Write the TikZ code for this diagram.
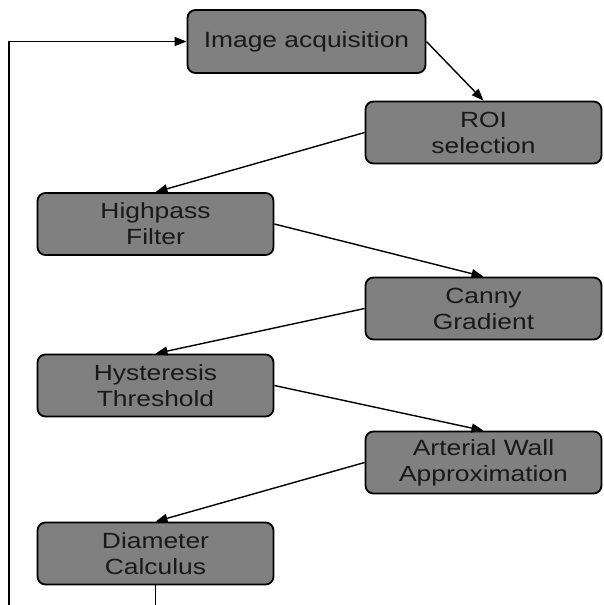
\documentclass[tikz,border=0pt]{standalone}
\usepackage{fontspec}
\setmainfont{Liberation Sans}
\usetikzlibrary{arrows.meta}
\newcommand\sx[1]{\scalebox{1.2}[1]{#1}}
\tikzset{
  stepbox/.style={draw=black, line width=1.8pt, fill={rgb,255:red,128;green,128;blue,128},
    rounded corners=8pt, minimum width=236pt, minimum height=62pt, inner sep=0pt,
    align=center, font=\fontsize{22}{26}\selectfont, text=black!90},
  conn/.style={line width=1.4pt, -{Triangle[length=12pt,width=9pt]}},
  plain/.style={line width=1.6pt}
}
\begin{document}
\begin{tikzpicture}[x=1pt,y=-1pt]
\useasboundingbox (0,0) rectangle (603,605);
\node[stepbox, minimum width=238pt, minimum height=63pt] (img) at (306.5,41.5) {\sx{Image acquisition}};
\node[stepbox] (roi) at (483.5,132.5) {\sx{ROI}\\\sx{selection}};
\node[stepbox] (hp) at (155.5,224) {\sx{Highpass}\\\sx{Filter}};
\node[stepbox] (canny) at (483.5,308.5) {\sx{Canny}\\\sx{Gradient}};
\node[stepbox] (hyst) at (155.5,385.5) {\sx{Hysteresis}\\\sx{Threshold}};
\node[stepbox] (art) at (483.5,462.5) {\sx{Arterial Wall}\\\sx{Approximation}};
\node[stepbox] (dia) at (155.5,553.5) {\sx{Diameter}\\\sx{Calculus}};
\coordinate (b1) at (155.5,606);
\coordinate (b2) at (9,606);
\draw[conn] (img.east) -- (roi.north);
\draw[conn] (roi.west) -- (hp.north);
\draw[conn] (hp.east) -- (canny.north);
\draw[conn] (canny.west) -- (hyst.north);
\draw[conn] (hyst.east) -- (art.north);
\draw[conn] (art.west) -- (dia.north);
\draw[plain] (dia.south) -- (b1);
\draw[plain, -{Triangle[length=12pt,width=9pt]}] (b2) |- (img.west);
\end{tikzpicture}
\end{document}
